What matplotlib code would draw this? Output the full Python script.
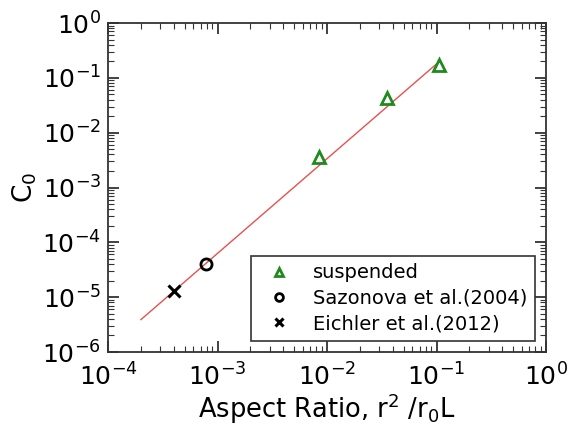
import matplotlib
matplotlib.use("Agg")
import matplotlib.pyplot as plt
from matplotlib.ticker import LogLocator, NullFormatter

# Data
susp_x = [8.45e-3, 3.5e-2, 1.05e-1]
susp_y = [3.6e-3, 4.3e-2, 1.7e-1]
saz_x = [7.8e-4]
saz_y = [4.1e-5]
eich_x = [4.0e-4]
eich_y = [1.3e-5]
fit_x = [2.0e-4, 1.0e-1]
fit_y = [3.9e-6, 1.79e-1]

plt.rcParams['font.family'] = ['DejaVu Sans']
plt.rcParams['mathtext.fontset'] = 'dejavusans'

fig = plt.figure(figsize=(5.69, 4.28), dpi=100)
ax = fig.add_axes([108/569, 1-352/428, (546-108)/569, (352-23)/428])

ax.plot(fit_x, fit_y, color='#e8504f', lw=1.0, zorder=1)
ax.plot(susp_x, susp_y, linestyle='none', marker='^', markersize=8,
        markerfacecolor='none', markeredgecolor='#1f8a1f', markeredgewidth=2,
        label='suspended', zorder=3)
ax.plot(saz_x, saz_y, linestyle='none', marker='o', markersize=8,
        markerfacecolor='none', markeredgecolor='black', markeredgewidth=2,
        label='Sazonova et al.(2004)', zorder=3)
ax.plot(eich_x, eich_y, linestyle='none', marker='x', markersize=8,
        color='black', markeredgewidth=2.2, label='Eichler et al.(2012)', zorder=3)

ax.set_xscale('log')
ax.set_yscale('log')
ax.set_xlim(1e-4, 1e0)
ax.set_ylim(1e-6, 1e0)

ax.xaxis.set_major_locator(LogLocator(base=10, numticks=10))
ax.yaxis.set_major_locator(LogLocator(base=10, numticks=10))
ax.xaxis.set_minor_locator(LogLocator(base=10, subs=range(2, 10), numticks=20))
ax.yaxis.set_minor_locator(LogLocator(base=10, subs=range(2, 10), numticks=20))
ax.xaxis.set_minor_formatter(NullFormatter())
ax.yaxis.set_minor_formatter(NullFormatter())

ax.tick_params(which='both', direction='in', top=True, right=True,
               colors='#333333', labelcolor='black')
ax.tick_params(which='major', length=8, width=1.3, labelsize=18)
ax.tick_params(axis='x', which='major', pad=8)
ax.tick_params(axis='y', which='major', pad=5)
ax.tick_params(which='minor', length=4, width=0.8)
for s in ax.spines.values():
    s.set_linewidth(1.3)
    s.set_color('#333333')

ax.set_xlabel(r'Aspect Ratio, r$^2$ /r$_0$L', fontsize=18.5, labelpad=1)
ax.set_ylabel(r'C$_0$', fontsize=19, labelpad=2)

leg = ax.legend(loc='lower right', fontsize=14, frameon=True, fancybox=False,
                edgecolor='#333333', framealpha=1, borderpad=0.4,
                handlelength=2.1, handletextpad=0.7, labelspacing=0.33,
                markerscale=0.7, borderaxespad=0,
                bbox_to_anchor=(1 - 11/438, 11/329))
leg.get_frame().set_linewidth(1.2)

fig.savefig('out.png', dpi=100)
